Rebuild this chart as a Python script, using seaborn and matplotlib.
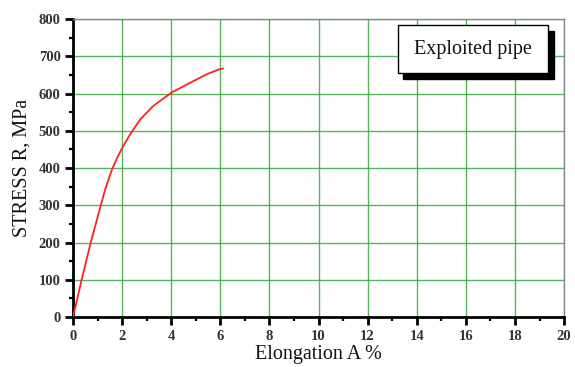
import matplotlib
matplotlib.use("Agg")
import matplotlib.pyplot as plt
from matplotlib.ticker import MultipleLocator
from matplotlib.patches import Rectangle
import seaborn as sns
import pandas as pd

# Tensile test curve of the exploited pipe
elongation = [0, 0.35, 0.72, 1.13, 1.32, 1.58, 1.80, 2.01, 2.32, 2.73, 3.27,
              4.02, 4.77, 5.45, 5.99, 6.12]
stress = [0, 100, 200, 300, 345, 395, 428, 455, 490, 530, 567,
          603, 629, 652, 666, 667]
x_ticks = [0, 2, 4, 6, 8, 10, 12, 14, 16, 18, 20]
y_ticks = [0, 100, 200, 300, 400, 500, 600, 700, 800]
legend_text = "Exploited pipe"

sns.set_theme(style="white")
plt.rcParams["font.family"] = ["Liberation Serif", "DejaVu Serif"]

df = pd.DataFrame({"Elongation": elongation, "Stress": stress})

fig = plt.figure(figsize=(5.75, 3.67), dpi=100)
ax = fig.add_axes([0.127, 0.136, 0.854, 0.812])

ax.set_xlim(0, 20)
ax.set_ylim(0, 800)
ax.set_xticks(x_ticks)
ax.set_yticks(y_ticks)
ax.xaxis.set_minor_locator(MultipleLocator(1))
ax.yaxis.set_minor_locator(MultipleLocator(50))

ax.grid(True, which="major", color="#3da83d", linewidth=1.0, alpha=0.85)
ax.set_axisbelow(True)

sns.lineplot(data=df, x="Elongation", y="Stress", ax=ax, color="#ff2020",
             linewidth=1.3, sort=False, estimator=None, zorder=3)

for side in ("left", "bottom"):
    ax.spines[side].set_color("black")
    ax.spines[side].set_linewidth(2.0)
for side in ("top", "right"):
    ax.spines[side].set_color("#888888")
    ax.spines[side].set_linewidth(1.0)

ax.tick_params(axis="both", which="major", direction="out", length=6, width=2,
               color="black", labelsize=10.5, labelcolor="#333333", pad=3)
ax.tick_params(axis="both", which="minor", direction="out", length=3, width=1.6,
               color="black")
ax.tick_params(bottom=True, left=True, which="both")
for lbl in ax.get_xticklabels() + ax.get_yticklabels():
    lbl.set_fontweight("bold")

ax.set_xlabel("Elongation A %", fontsize=14.5, color="#111111", labelpad=2)
ax.set_ylabel("STRESS R, MPa", fontsize=14.5, color="#111111", labelpad=5)

# Legend box with a drop shadow
bx, by, bw, bh = 0.661, 0.818, 0.307, 0.162
ax.add_patch(Rectangle((bx + 0.011, by - 0.02), bw, bh, transform=ax.transAxes,
                       facecolor="black", edgecolor="black", zorder=5, clip_on=False))
ax.add_patch(Rectangle((bx, by), bw, bh, transform=ax.transAxes,
                       facecolor="white", edgecolor="black", linewidth=1.0,
                       zorder=6, clip_on=False))
ax.text(bx + bw / 2, by + bh / 2, legend_text, transform=ax.transAxes,
        ha="center", va="center", fontsize=14.5, color="#111111", zorder=7)

fig.savefig("out.png", dpi=100)
